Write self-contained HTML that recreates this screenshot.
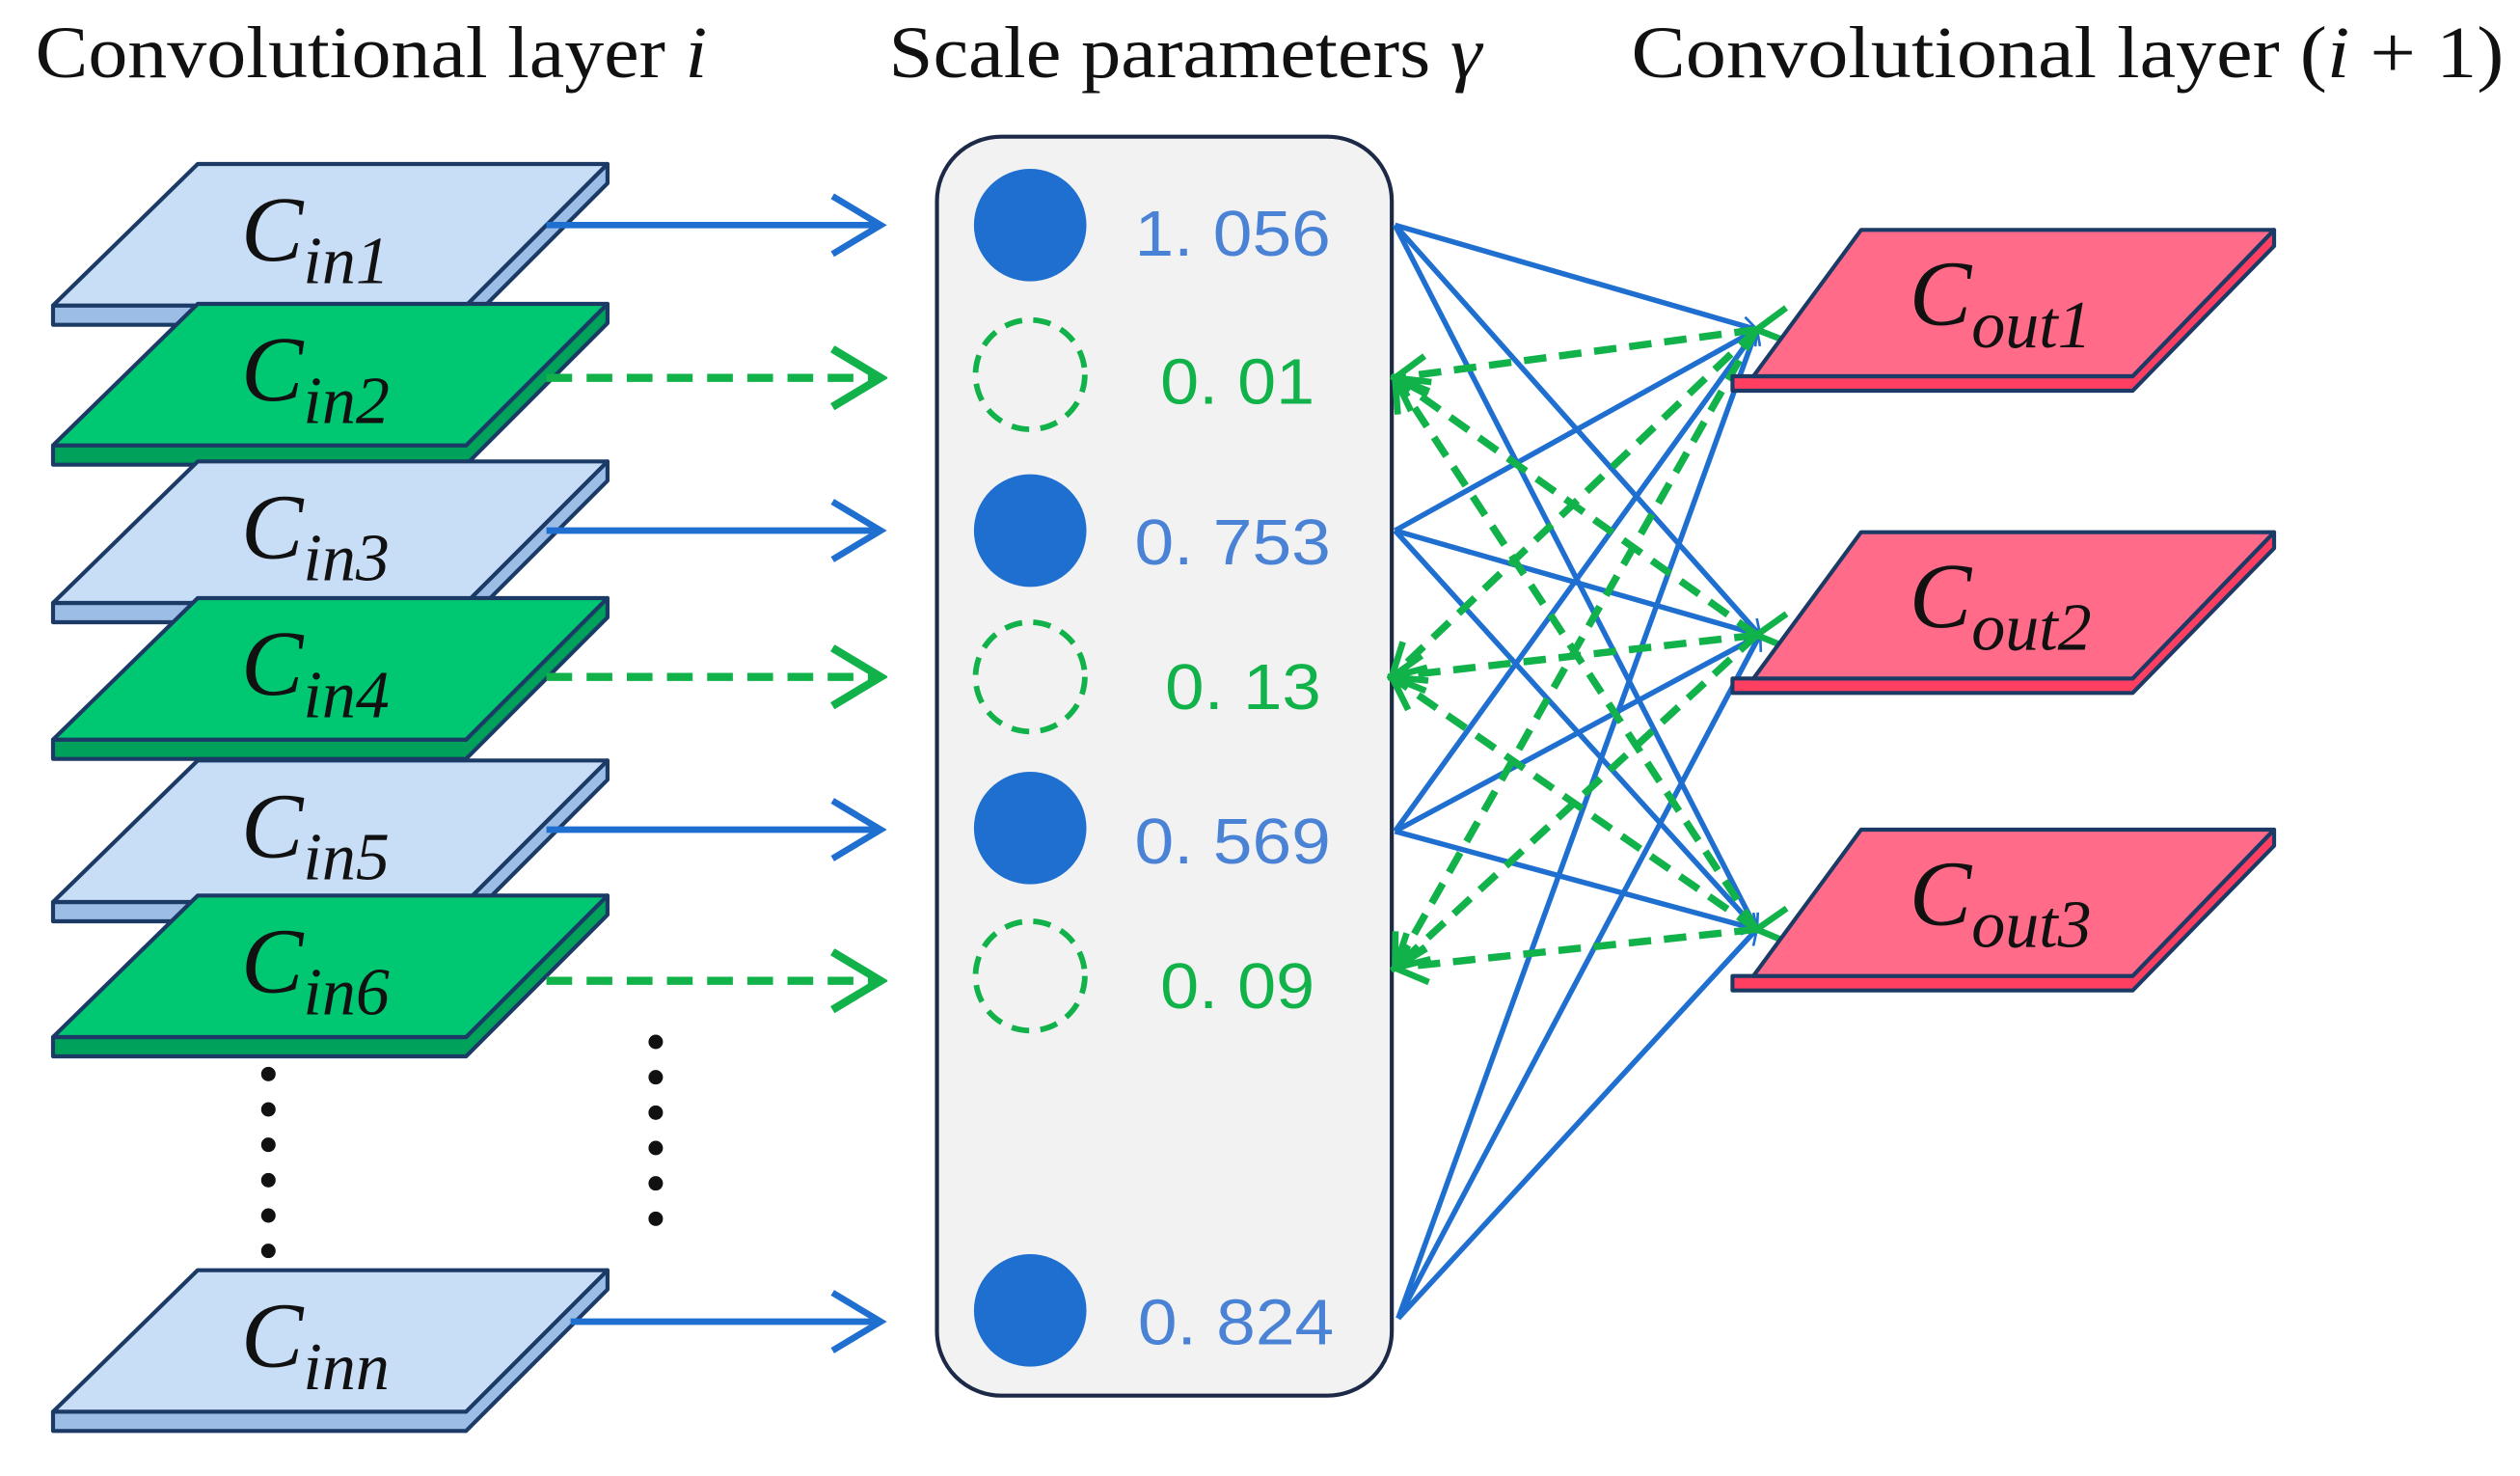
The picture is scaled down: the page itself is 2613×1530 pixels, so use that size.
<!DOCTYPE html>
<html><head><meta charset="utf-8"><style>
html,body{margin:0;padding:0;background:#fff;}
svg{display:block;}
text{font-family:"Liberation Serif",serif;}
.t{font-size:46px;fill:#111;}
.C{font-style:italic;font-size:58px;fill:#111;}
.s{font-style:italic;font-size:42px;fill:#111;}
.v{font-family:"Liberation Sans",sans-serif;font-size:40px;}
</style></head><body>
<svg width="2613" height="1530" viewBox="0 0 1568 918" preserveAspectRatio="none" xmlns="http://www.w3.org/2000/svg">
<defs>
<marker id="ab" markerWidth="12" markerHeight="12" refX="10" refY="6" orient="auto" markerUnits="userSpaceOnUse" viewBox="0 0 12 12"><path d="M1,0.5 L10.5,6 L1,11.5" fill="none" stroke="#1f6fd0" stroke-width="1.6"/></marker>
<marker id="bb" markerWidth="40" markerHeight="40" refX="36" refY="20" orient="auto" markerUnits="userSpaceOnUse" viewBox="0 0 40 40"><path d="M6,2 L36,20 L6,38" fill="none" stroke="#1f6fd0" stroke-width="4"/></marker>
<marker id="bg" markerWidth="40" markerHeight="40" refX="36" refY="20" orient="auto" markerUnits="userSpaceOnUse" viewBox="0 0 40 40"><path d="M6,2 L36,20 L6,38" fill="none" stroke="#12b24a" stroke-width="5"/></marker>
<marker id="sg" markerWidth="26" markerHeight="26" refX="23" refY="13" orient="auto" markerUnits="userSpaceOnUse" viewBox="0 0 26 26"><path d="M3,2 L23,13 L3,24" fill="none" stroke="#12b24a" stroke-width="4"/></marker>
</defs>

<text class="t" x="22" y="48" textLength="418" lengthAdjust="spacingAndGlyphs">Convolutional layer <tspan font-style="italic">i</tspan></text>
<text class="t" x="553" y="48" textLength="369" lengthAdjust="spacingAndGlyphs">Scale parameters <tspan font-style="italic">γ</tspan></text>
<text class="t" x="1015" y="48" textLength="543" lengthAdjust="spacingAndGlyphs">Convolutional layer (<tspan font-style="italic">i</tspan> + 1)</text>

<g stroke="#1c3a66" stroke-width="2.5" stroke-linejoin="round">
<g transform="translate(0,102)"><polygon points="33,88 290,88 378,0 378,12 290,100 33,100" fill="#9cbde6"/><polygon points="123,0 378,0 290,88 33,88" fill="#c8ddf6"/></g>
<g transform="translate(0,189)"><polygon points="33,88 290,88 378,0 378,12 290,100 33,100" fill="#00a15a"/><polygon points="123,0 378,0 290,88 33,88" fill="#00c872"/></g>
<g transform="translate(0,287)"><polygon points="33,88 290,88 378,0 378,12 290,100 33,100" fill="#9cbde6"/><polygon points="123,0 378,0 290,88 33,88" fill="#c8ddf6"/></g>
<g transform="translate(0,372)"><polygon points="33,88 290,88 378,0 378,12 290,100 33,100" fill="#00a15a"/><polygon points="123,0 378,0 290,88 33,88" fill="#00c872"/></g>
<g transform="translate(0,473)"><polygon points="33,88 290,88 378,0 378,12 290,100 33,100" fill="#9cbde6"/><polygon points="123,0 378,0 290,88 33,88" fill="#c8ddf6"/></g>
<g transform="translate(0,557)"><polygon points="33,88 290,88 378,0 378,12 290,100 33,100" fill="#00a15a"/><polygon points="123,0 378,0 290,88 33,88" fill="#00c872"/></g>
<g transform="translate(0,790)"><polygon points="33,88 290,88 378,0 378,12 290,100 33,100" fill="#9cbde6"/><polygon points="123,0 378,0 290,88 33,88" fill="#c8ddf6"/></g>
</g>
<g>
<text class="C" x="150" y="162">C<tspan class="s" dy="14">in1</tspan></text>
<text class="C" x="150" y="249">C<tspan class="s" dy="14">in2</tspan></text>
<text class="C" x="150" y="347">C<tspan class="s" dy="14">in3</tspan></text>
<text class="C" x="150" y="432">C<tspan class="s" dy="14">in4</tspan></text>
<text class="C" x="150" y="533">C<tspan class="s" dy="14">in5</tspan></text>
<text class="C" x="150" y="617">C<tspan class="s" dy="14">in6</tspan></text>
<text class="C" x="150" y="850">C<tspan class="s" dy="14">inn</tspan></text>
</g>

<line x1="167" y1="668" x2="167" y2="800" stroke="#111" stroke-width="9" stroke-linecap="round" stroke-dasharray="0,22"/>
<line x1="408" y1="648" x2="408" y2="780" stroke="#111" stroke-width="9" stroke-linecap="round" stroke-dasharray="0,22"/>

<g stroke-width="4" fill="none">
<line x1="340" y1="140" x2="548" y2="140" stroke="#1f6fd0" marker-end="url(#bb)"/>
<line x1="340" y1="235" x2="548" y2="235" stroke="#12b24a" stroke-width="5" stroke-dasharray="16,9" marker-end="url(#bg)"/>
<line x1="340" y1="330" x2="548" y2="330" stroke="#1f6fd0" marker-end="url(#bb)"/>
<line x1="340" y1="421" x2="548" y2="421" stroke="#12b24a" stroke-width="5" stroke-dasharray="16,9" marker-end="url(#bg)"/>
<line x1="340" y1="516" x2="548" y2="516" stroke="#1f6fd0" marker-end="url(#bb)"/>
<line x1="340" y1="610" x2="548" y2="610" stroke="#12b24a" stroke-width="5" stroke-dasharray="16,9" marker-end="url(#bg)"/>
<line x1="355" y1="822" x2="548" y2="822" stroke="#1f6fd0" marker-end="url(#bb)"/>
</g>

<rect x="583" y="85" width="283" height="783" rx="40" fill="#f2f2f2" stroke="#1c2a48" stroke-width="2.5"/>
<g>
<circle cx="641" cy="140" r="35" fill="#1f6fd0"/>
<circle cx="641" cy="233" r="34" fill="none" stroke="#12b24a" stroke-width="3.5" stroke-dasharray="11,7"/>
<circle cx="641" cy="330" r="35" fill="#1f6fd0"/>
<circle cx="641" cy="421" r="34" fill="none" stroke="#12b24a" stroke-width="3.5" stroke-dasharray="11,7"/>
<circle cx="641" cy="515" r="35" fill="#1f6fd0"/>
<circle cx="641" cy="607" r="34" fill="none" stroke="#12b24a" stroke-width="3.5" stroke-dasharray="11,7"/>
<circle cx="641" cy="815" r="35" fill="#1f6fd0"/>
</g>
<text class="v" x="706" y="159" fill="#4a82d6" textLength="122" lengthAdjust="spacingAndGlyphs">1. 056</text>
<text class="v" x="722" y="251" fill="#12b24a" textLength="96" lengthAdjust="spacingAndGlyphs">0. 01</text>
<text class="v" x="706" y="351" fill="#4a82d6" textLength="122" lengthAdjust="spacingAndGlyphs">0. 753</text>
<text class="v" x="725" y="441" fill="#12b24a" textLength="97" lengthAdjust="spacingAndGlyphs">0. 13</text>
<text class="v" x="706" y="537" fill="#4a82d6" textLength="122" lengthAdjust="spacingAndGlyphs">0. 569</text>
<text class="v" x="722" y="627" fill="#12b24a" textLength="96" lengthAdjust="spacingAndGlyphs">0. 09</text>
<text class="v" x="708" y="836" fill="#4a82d6" textLength="122" lengthAdjust="spacingAndGlyphs">0. 824</text>

<g stroke="#1f6fd0" stroke-width="3.3" fill="none">
<line x1="868" y1="140" x2="1093" y2="205" marker-end="url(#ab)"/>
<line x1="868" y1="140" x2="1095" y2="395" marker-end="url(#ab)"/>
<line x1="868" y1="140" x2="1093" y2="578" marker-end="url(#ab)"/>
<line x1="868" y1="330" x2="1093" y2="205" marker-end="url(#ab)"/>
<line x1="868" y1="330" x2="1095" y2="395" marker-end="url(#ab)"/>
<line x1="868" y1="330" x2="1093" y2="578" marker-end="url(#ab)"/>
<line x1="868" y1="517" x2="1093" y2="205" marker-end="url(#ab)"/>
<line x1="868" y1="517" x2="1095" y2="395" marker-end="url(#ab)"/>
<line x1="868" y1="517" x2="1093" y2="578" marker-end="url(#ab)"/>
<line x1="870" y1="820" x2="1093" y2="205" marker-end="url(#ab)"/>
<line x1="870" y1="820" x2="1095" y2="395" marker-end="url(#ab)"/>
<line x1="870" y1="820" x2="1093" y2="578" marker-end="url(#ab)"/>
</g>
<g stroke="#12b24a" stroke-width="4.5" fill="none" stroke-dasharray="14,8">
<line x1="1093" y1="205" x2="868" y2="235" marker-end="url(#sg)" marker-start="url(#sg)"/>
<line x1="1093" y1="395" x2="868" y2="235" marker-end="url(#sg)"/>
<line x1="1093" y1="578" x2="868" y2="235" marker-end="url(#sg)"/>
<line x1="1093" y1="205" x2="866" y2="421" marker-end="url(#sg)"/>
<line x1="1093" y1="395" x2="866" y2="421" marker-end="url(#sg)" marker-start="url(#sg)"/>
<line x1="1093" y1="578" x2="866" y2="421" marker-end="url(#sg)"/>
<line x1="1093" y1="205" x2="868" y2="602" marker-end="url(#sg)"/>
<line x1="1093" y1="395" x2="868" y2="602" marker-end="url(#sg)"/>
<line x1="1093" y1="578" x2="868" y2="602" marker-end="url(#sg)" marker-start="url(#sg)"/>
</g>

<g stroke="#1c3a66" stroke-width="2.5" stroke-linejoin="round">
<g transform="translate(0,143)"><polygon points="1091,91 1327,91 1415,0 1415,10 1327,100 1078,100 1078,91" fill="#ff3f62"/><polygon points="1158,0 1415,0 1327,91 1091,91" fill="#ff6b88"/></g>
<g transform="translate(0,331)"><polygon points="1091,91 1327,91 1415,0 1415,10 1327,100 1078,100 1078,91" fill="#ff3f62"/><polygon points="1158,0 1415,0 1327,91 1091,91" fill="#ff6b88"/></g>
<g transform="translate(0,516)"><polygon points="1091,91 1327,91 1415,0 1415,10 1327,100 1078,100 1078,91" fill="#ff3f62"/><polygon points="1158,0 1415,0 1327,91 1091,91" fill="#ff6b88"/></g>
</g>
<text class="C" x="1188" y="202">C<tspan class="s" dy="14">out1</tspan></text>
<text class="C" x="1188" y="390">C<tspan class="s" dy="14">out2</tspan></text>
<text class="C" x="1188" y="575">C<tspan class="s" dy="14">out3</tspan></text>
</svg>
</body></html>
